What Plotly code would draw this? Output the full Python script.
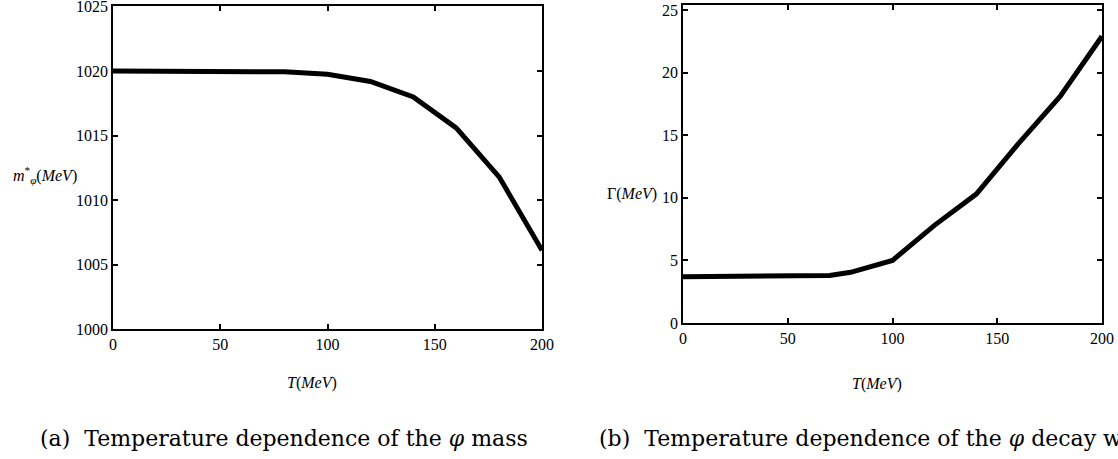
import plotly.graph_objects as go

# Data
T_mass = [0, 20, 40, 60, 80, 100, 120, 140, 160, 180, 200]
m_phi = [1020.0, 1020.0, 1020.0, 1020.0, 1019.95, 1019.75, 1019.2, 1018.0, 1015.6, 1011.8, 1006.1]

T_width = [0, 20, 40, 60, 70, 80, 100, 120, 140, 160, 180, 200]
gamma = [3.7, 3.7, 3.7, 3.75, 3.8, 4.05, 5.0, 7.8, 10.3, 14.3, 18.1, 22.9]

x_ticks = [0, 50, 100, 150, 200]
y_ticks_a = [1000, 1005, 1010, 1015, 1020, 1025]
y_ticks_b = [0, 5, 10, 15, 20, 25]

W, H = 1118, 459
def px(x): return x / W
def py(y): return 1 - y / H

fig = go.Figure()
fig.add_trace(go.Scatter(x=T_mass, y=m_phi, mode="lines", line=dict(color="black", width=5),
                         xaxis="x", yaxis="y", showlegend=False))
fig.add_trace(go.Scatter(x=T_width, y=gamma, mode="lines", line=dict(color="black", width=5),
                         xaxis="x2", yaxis="y2", showlegend=False))

tickfont = dict(family="Liberation Serif, DejaVu Serif, serif", size=16, color="black")
axis_common = dict(showline=True, linecolor="black", linewidth=1.5, mirror="ticks",
                   ticks="inside", ticklen=5, tickwidth=1.5, tickcolor="black",
                   showgrid=False, zeroline=False, tickfont=tickfont, automargin=False,
                   ticklabeloverflow="allow")

fig.update_layout(
    width=W, height=H,
    margin=dict(l=0, r=0, t=0, b=0),
    paper_bgcolor="white", plot_bgcolor="white",
    xaxis=dict(domain=[px(113), px(542)], range=[0, 200], tickvals=x_ticks, anchor="y", **axis_common),
    yaxis=dict(domain=[py(329), py(6)], range=[1000, 1025.05], tickvals=y_ticks_a, anchor="x", **axis_common),
    xaxis2=dict(domain=[px(683), px(1102)], range=[0, 200], tickvals=x_ticks, anchor="y2", **axis_common),
    yaxis2=dict(domain=[py(323), py(5)], range=[0, 25.4], tickvals=y_ticks_b, anchor="x2", **axis_common),
)

lab = dict(family="Liberation Serif, DejaVu Serif, serif", size=16, color="black")
cap = dict(family="DejaVu Serif, Liberation Serif, serif", size=22, color="black")
ann = [
    dict(x=px(45), y=py(175), text="<i>m</i><sup>*</sup><sub><i>φ</i></sub>(<i>MeV</i>)", font=lab),
    dict(x=px(312), y=py(383), text="<i>T</i>(<i>MeV</i>)", font=lab),
    dict(x=px(632), y=py(194), text="Γ(<i>MeV</i>)", font=lab),
    dict(x=px(877), y=py(384), text="<i>T</i>(<i>MeV</i>)", font=lab),
    dict(x=px(38), y=py(438), text="(a)  Temperature dependence of the <i>φ</i> mass", font=cap, xanchor="left"),
    dict(x=px(597), y=py(438), text="(b)  Temperature dependence of the <i>φ</i> decay width", font=cap, xanchor="left"),
]
for a in ann:
    a.setdefault("xanchor", "center")
    fig.add_annotation(xref="paper", yref="paper", showarrow=False, yanchor="middle", **a)

fig.write_html("out.html", config={"displayModeBar": False},
               post_script="document.body.style.margin='0';document.body.style.overflow='hidden';")
